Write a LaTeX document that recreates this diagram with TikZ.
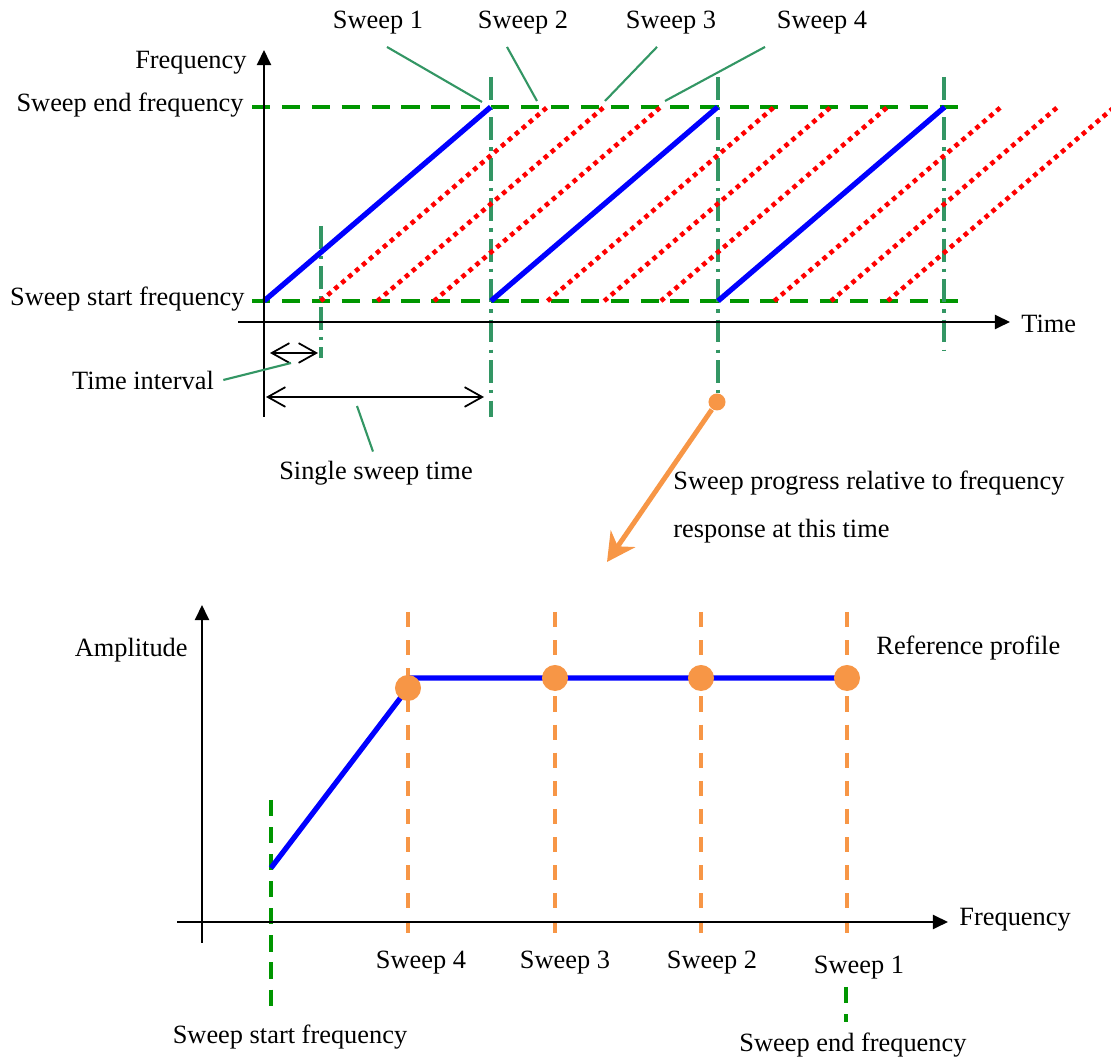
\documentclass[tikz,border=0pt]{standalone}
\usepackage{fontspec}
\setmainfont{Liberation Serif}
\usetikzlibrary{arrows.meta, positioning}
\definecolor{sweepblue}{RGB}{0,0,255}
\definecolor{sweepred}{RGB}{255,0,0}
\definecolor{limgreen}{RGB}{0,150,0}
\definecolor{markteal}{RGB}{51,150,100}
\definecolor{accent}{RGB}{247,150,70}

\begin{document}
\begin{tikzpicture}[x=0.01cm, y=-0.01cm, font=\fontsize{7.5}{9}\selectfont,
    axisline/.style={black, line width=0.6pt, -{Triangle[length=4.3pt, width=4pt]}},
    dimline/.style={black, line width=0.5pt, {Straight Barb[length=5pt, width=5.6pt]}-{Straight Barb[length=5pt, width=5.6pt]}},
    limline/.style={limgreen, line width=1.1pt, dash pattern=on 5.2pt off 3.3pt},
    startline/.style={limgreen, line width=0.9pt, dash pattern=on 4.6pt off 3.1pt},
    markline/.style={markteal, line width=1pt, dash pattern=on 6.5pt off 2pt on 1pt off 2pt},
    callout/.style={markteal, line width=0.6pt},
    sweepline/.style={sweepblue, line width=1.5pt},
    ghost/.style={sweepred, line width=1.3pt, dash pattern=on 1.3pt off 1.3pt},
    probe/.style={accent, line width=1.1pt, dash pattern=on 4.3pt off 3.7pt},
    progress/.style={accent, line width=1.4pt, -{Stealth[length=8pt, width=8.4pt, inset=2.6pt]}},
    hit/.style={circle, fill=accent, inner sep=0pt, minimum size=2.6mm},
    nowdot/.style={circle, fill=accent, inner sep=0pt, minimum size=1.7mm}]
  \useasboundingbox (0,0) rectangle (1111,1058);

  % time plot
  \draw[limline] (252,107) -- (966,107);
  \draw[limline] (252,301) -- (966,301);
  \draw[markline] (321,226) -- (321,358);
  \draw[markline] (491,77) -- (491,417);
  \draw[markline] (718,77) -- (718,394);
  \draw[markline] (944,77) -- (944,350);
  \begin{scope}
    \clip (0,0) rectangle (1111,1058);
    \foreach \k in {1,2,3,5,6,7,9,10,11} {
      \pgfmathsetmacro{\xs}{264+56.7*\k}
      \draw[ghost] (\xs,301) -- ++(226.7,-194);
    }
  \end{scope}
  \foreach \xs in {264,491,718}
    \draw[sweepline] (\xs,301) -- ++(226.7,-194);
  \draw[axisline] (264,417) -- (264,50);
  \draw[axisline] (238,322) -- (1010,322);

  \node[anchor=east] (fq) at (259,63) {Frequency};
  \node[anchor=east] (fend) at (256,105) {Sweep end frequency};
  \node[anchor=east] (fstart) at (257,299) {Sweep start frequency};
  \node[anchor=west] (tm) at (1009,324) {Time};

  \foreach \n/\x/\dx/\ex/\ey in {1/378/9/482/102, 2/523/-16/537/101, 3/671/-14/605/101, 4/822/-57/665/101} {
    \node (sw\n) at (\x,23) {Sweep \n};
    \coordinate (tip\n) at (\ex,\ey);
    \draw[callout] (sw\n.south) ++(\dx,0) -- (tip\n);
  }

  % intervals
  \coordinate (ti0) at (270,353);
  \coordinate (ti1) at (318,353);
  \draw[dimline] (ti0) -- (ti1);
  \coordinate (ss0) at (266,397);
  \coordinate (ss1) at (484,397);
  \draw[dimline] (ss0) -- (ss1);
  \node (tilab) at (143,380) {Time interval};
  \coordinate (tiend) at (291,363);
  \draw[callout] (tilab.east) ++(-3,0) -- (tiend);
  \node (sslab) at (376,473) {Single sweep time};
  \coordinate (ssend) at (357,406);
  \draw[callout] (sslab.north) ++(-3,3) -- (ssend);

  % progress arrow
  \node[nowdot] (now) at (717,402) {};
  \coordinate (land) at (607,562);
  \draw[progress] (now) -- (land);
  \node[anchor=west, align=left, font=\fontsize{7.5}{13.6}\selectfont] (note) at (661,507)
    {Sweep progress relative to frequency\\response at this time};

  % frequency plot
  \foreach \x in {408,555,701,847}
    \draw[probe] (\x,612) -- (\x,933);
  \draw[startline] (271,800) -- (271,1012);
  \draw[startline] (846,987) -- (846,1022);
  \draw[axisline] (202,943) -- (202,605);
  \draw[axisline] (177,922) -- (948,922);
  \draw[sweepline] (271,868) -- (408,688) (408,678) -- (847,678);
  \node[hit] (h4) at (408,688) {};
  \node[hit] (h3) at (555,678) {};
  \node[hit] (h2) at (701,678) {};
  \node[hit] (h1) at (847,678) {};

  \node[anchor=east] (amp) at (200,650) {Amplitude};
  \node[anchor=west] (ref) at (864,648) {Reference profile};
  \node[anchor=west] (fx) at (947,920) {Frequency};
  \node (b4) at (421,963) {Sweep 4};
  \node (b3) at (565,963) {Sweep 3};
  \node (b2) at (712,963) {Sweep 2};
  \node (b1) at (859,968) {Sweep 1};
  \node (bstart) at (290,1037) {Sweep start frequency};
  \node (bend) at (853,1045) {Sweep end frequency};
\end{tikzpicture}
\end{document}
